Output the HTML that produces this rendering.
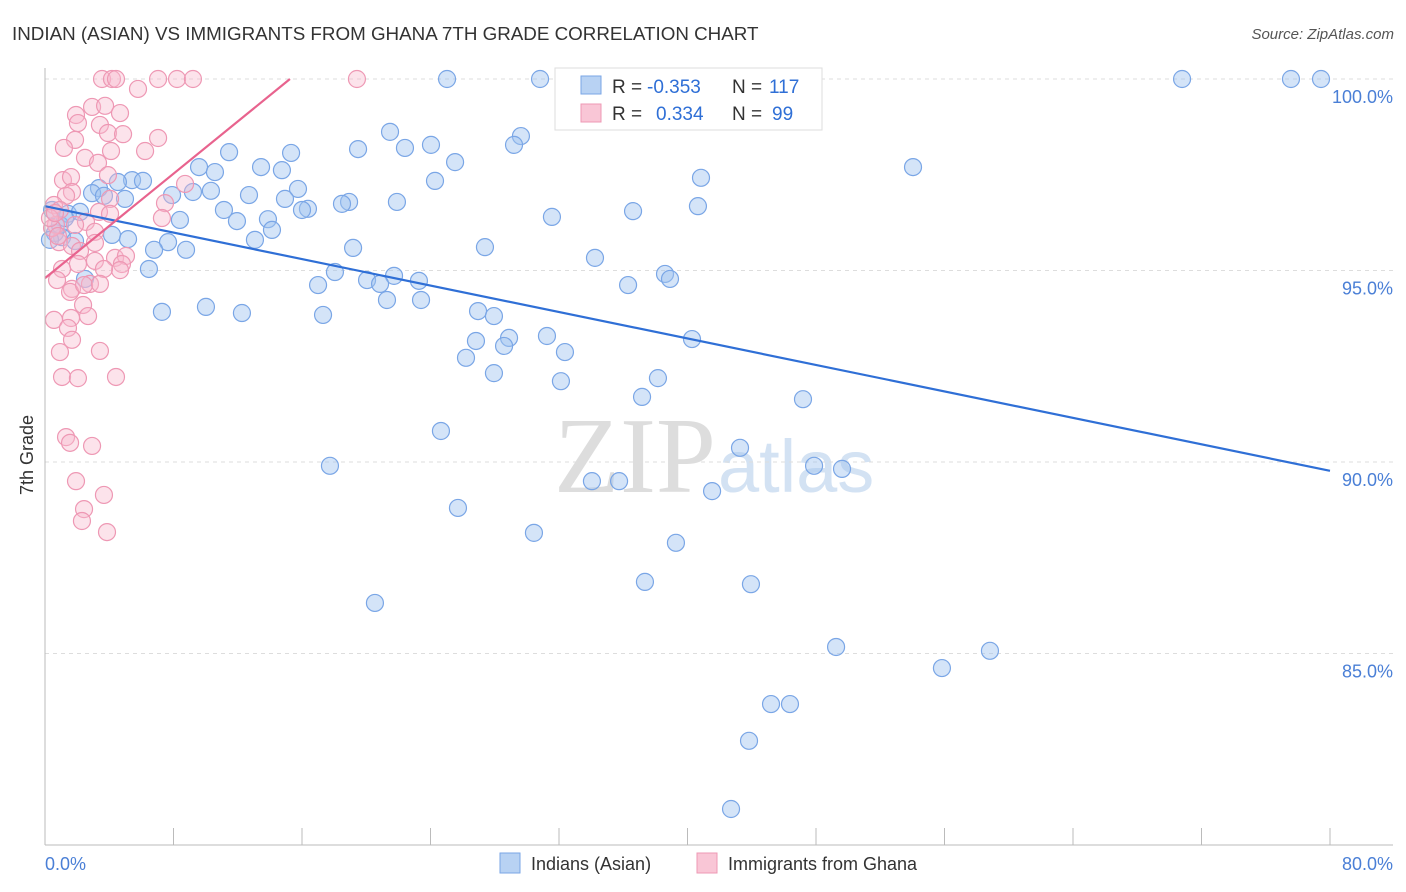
<!DOCTYPE html>
<html><head><meta charset="utf-8"><style>
body{margin:0;background:#fff;font-family:"Liberation Sans",sans-serif;}
svg{display:block}
</style></head><body>
<svg width="1406" height="892">
<text x="12" y="40" font-size="18.8" fill="#333">INDIAN (ASIAN) VS IMMIGRANTS FROM GHANA 7TH GRADE CORRELATION CHART</text>
<text x="1394" y="39" font-size="15" fill="#555" text-anchor="end" font-style="italic">Source: ZipAtlas.com</text>
<text x="716" y="492" font-size="108" fill="#ddd" text-anchor="end" font-family="Liberation Serif,serif">ZIP</text>
<text x="718" y="492" font-size="74" fill="#d3e2f3">atlas</text>
<g id="grid"></g><g id="pts"></g><g id="lines"></g>
<line x1="45" y1="68" x2="45" y2="845" stroke="#bbb"/>
<line x1="45" y1="845" x2="1393" y2="845" stroke="#bbb"/>
<text x="33" y="455" font-size="18" fill="#333" text-anchor="middle" transform="rotate(-90 33 455)">7th Grade</text>
<text x="45" y="870" font-size="18" fill="#4a7fd6">0.0%</text>
<text x="1393" y="870" font-size="18" fill="#4a7fd6" text-anchor="end">80.0%</text>
<g>
<rect x="555" y="68" width="267" height="62" fill="#fff" stroke="#ddd"/>
<rect x="581" y="76" width="20" height="18" fill="#b8d2f3" stroke="#7aa6e6"/>
<rect x="581" y="104" width="20" height="18" fill="#f9c6d6" stroke="#ee98b4"/>
<text x="612" y="93" font-size="19" fill="#333">R =</text>
<text x="647" y="93" font-size="19" fill="#2f6fd6">-0.353</text>
<text x="732" y="93" font-size="19" fill="#333">N =</text>
<text x="769" y="93" font-size="19" fill="#2f6fd6">117</text>
<text x="612" y="120" font-size="19" fill="#333">R =</text>
<text x="656" y="120" font-size="19" fill="#2f6fd6">0.334</text>
<text x="732" y="120" font-size="19" fill="#333">N =</text>
<text x="772" y="120" font-size="19" fill="#2f6fd6">99</text>
</g>
<g>
<rect x="500" y="853" width="20" height="20" fill="#b8d2f3" stroke="#7aa6e6"/>
<text x="531" y="870" font-size="18" fill="#333">Indians (Asian)</text>
<rect x="697" y="853" width="20" height="20" fill="#f9c6d6" stroke="#ee98b4"/>
<text x="728" y="870" font-size="18" fill="#333">Immigrants from Ghana</text>
</g>
</svg>
<script>
const yTicks=[100,95,90,85];
const xTickVals=[0,8,16,24,32,40,48,56,64,72,80];
const blueXpx=[447,540,797,1182,1291,1321,390,521,514,405,431,358,229,291,455,913,199,215,261,282,435,701,132,143,118,99,92,298,193,211,172,249,104,125,285,397,349,342,698,308,302,224,633,552,268,237,180,68,80,272,112,128,62,75,255,168,154,186,353,485,595,149,335,367,394,419,318,380,665,670,628,85,206,162,242,323,387,421,478,494,547,509,476,504,565,466,692,494,561,658,642,803,441,740,330,814,842,592,619,712,458,534,676,645,751,375,836,990,942,771,790,749,731,55,60,52,65,50];
const blueYpx=[79,79,79,79,79,79,132,136,145,148,145,149,152,153,162,167,167,172,167,170,181,178,180,181,182,188,193,189,192,191,195,195,196,199,199,202,202,204,206,209,210,210,211,217,219,221,220,214,212,230,235,239,237,241,240,242,250,250,248,247,258,269,272,280,276,281,285,284,274,279,285,279,307,312,313,315,300,300,311,316,336,338,341,346,352,358,339,373,381,378,397,399,431,448,466,466,469,481,481,491,508,533,543,582,584,603,647,651,668,704,704,741,809,233,225,210,218,240];
const pinkXpx=[102,112,116,158,177,193,357,138,92,76,105,120,78,100,108,123,158,75,64,111,145,85,98,108,63,71,72,185,66,110,165,54,60,99,110,162,86,56,75,95,59,72,95,80,115,126,95,78,122,120,104,62,57,90,72,70,84,100,83,54,71,88,68,72,60,100,62,78,116,66,70,92,76,104,84,82,107,52,58,50,55];
const pinkYpx=[79,79,79,79,79,79,79,89,107,115,106,113,123,125,133,134,138,140,148,151,151,158,163,175,180,177,192,184,196,199,203,205,210,212,214,218,222,225,225,232,242,246,243,251,258,256,261,264,264,270,269,269,280,284,289,292,285,284,305,320,318,316,328,340,352,351,377,378,377,437,443,446,481,495,509,521,532,228,236,218,213];
const blueX=blueXpx.map(p=>+((p-45)*80/1285).toFixed(2));
const blueY=blueYpx.map(p=>+(100-(p-79)/38.3).toFixed(2));
const pinkX=pinkXpx.map(p=>+((p-45)*80/1285).toFixed(2));
const pinkY=pinkYpx.map(p=>+(100-(p-79)/38.3).toFixed(2));
const blueTrend=[96.68,89.77];
const pinkTrend=[94.8,100,15.25];
const sx=v=>45+v*1285/80, sy=v=>79+(100-v)*38.3;
const NS='http://www.w3.org/2000/svg';
function mk(t,a,p){const e=document.createElementNS(NS,t);for(const k in a)e.setAttribute(k,a[k]);p.appendChild(e);return e;}
const g=document.getElementById('grid');
yTicks.forEach(v=>{
 const l=mk('line',{x1:45,x2:1393,y1:sy(v),y2:sy(v),stroke:'#ddd','stroke-dasharray':'4 4'},g);
 
 
 const t=mk('text',{x:1393,y:sy(v)+24,'font-size':18,fill:'#4a7fd6','text-anchor':'end'},g);
 t.textContent=v.toFixed(1)+'%';
 
 
});
xTickVals.forEach(v=>{
 const l=mk('line',{x1:sx(v),x2:sx(v),y1:828,y2:845,stroke:'#bbb'},g);
 
 
});
const pg=document.getElementById('pts');
blueX.forEach((x,i)=>{
 const c=mk('circle',{cx:sx(x),cy:sy(blueY[i]),r:8.5,fill:'rgba(160,195,240,0.45)',stroke:'#7aa6e6','stroke-width':1.2},pg);
 
 
});
pinkX.forEach((x,i)=>{
 const c=mk('circle',{cx:sx(x),cy:sy(pinkY[i]),r:8.5,fill:'rgba(248,185,205,0.4)',stroke:'#ee98b4','stroke-width':1.2},pg);
 
 
});
const lg=document.getElementById('lines');
const bl=mk('line',{x1:sx(0),y1:sy(blueTrend[0]),x2:sx(80),y2:sy(blueTrend[1]),stroke:'#2f6fd6','stroke-width':2.2},lg);


const pl=mk('line',{x1:sx(0),y1:sy(pinkTrend[0]),x2:sx(pinkTrend[2]),y2:sy(pinkTrend[1]),stroke:'#e8638e','stroke-width':2.2},lg);


</script>
</body></html>
